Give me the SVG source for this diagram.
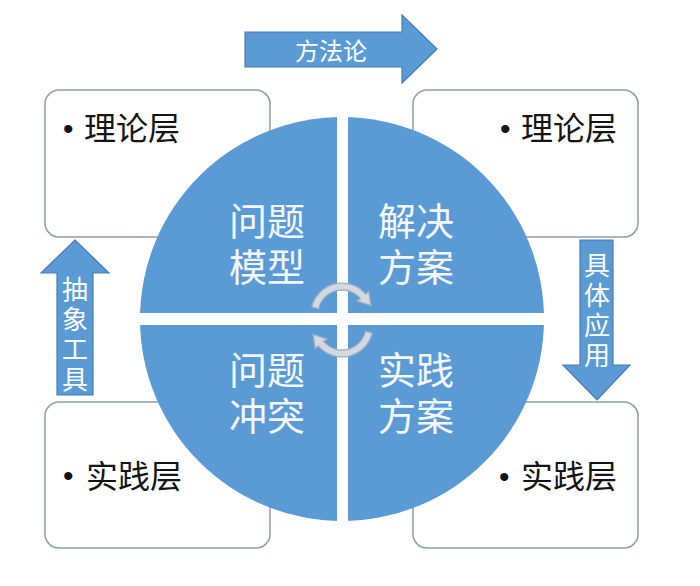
<svg xmlns="http://www.w3.org/2000/svg" width="700" height="586" viewBox="0 0 700 586">
<style>
.box{fill:#ffffff;stroke:#8e9cae;stroke-width:1.5}
.btxt{font-family:"Noto Sans CJK SC","Noto Sans",sans-serif;font-size:32px;fill:#141414}
.bul{font-family:"Liberation Sans",sans-serif;font-size:30px;fill:#141414}
.quad{fill:#5b9bd5}
.qtxt{font-family:"Noto Sans CJK SC",sans-serif;font-size:38px;fill:#f4f7fb;text-anchor:middle}
.barrow{fill:#5b9bd5;stroke:#4a7db0;stroke-width:1.2}
.atxt{font-family:"Noto Sans CJK SC",sans-serif;fill:#ffffff;text-anchor:middle}
.vtxt{font-family:"Noto Sans CJK SC",sans-serif;fill:#ffffff;font-size:26px;writing-mode:vertical-rl;letter-spacing:4px}
.cyc{fill:#d3d9e0;stroke:#a3afbd;stroke-width:1.3}
</style>
<rect width="700" height="586" fill="#ffffff"/>
<g id="box-theory-left">
<rect class="box" x="45" y="90" width="225" height="147" rx="14"/>
<text class="btxt"><tspan class="bul" x="63" y="139">•</tspan><tspan x="84" y="140">理论层</tspan></text>
</g>
<g id="box-theory-right">
<rect class="box" x="413" y="90" width="225" height="147" rx="14"/>
<text class="btxt"><tspan class="bul" x="500" y="139">•</tspan><tspan x="521" y="140">理论层</tspan></text>
</g>
<g id="box-practice-left">
<rect class="box" x="45" y="402" width="225" height="146" rx="14"/>
<text class="btxt"><tspan class="bul" x="63" y="486">•</tspan><tspan x="86" y="488">实践层</tspan></text>
</g>
<g id="box-practice-right">
<rect class="box" x="413" y="402" width="225" height="146" rx="14"/>
<text class="btxt"><tspan class="bul" x="499" y="487">•</tspan><tspan x="521" y="488">实践层</tspan></text>
</g>
<g id="circle">
<circle class="quad" cx="342" cy="319" r="202"/>
<rect x="337" y="110" width="11" height="420" fill="#ffffff"/>
<rect x="130" y="313" width="425" height="12" fill="#ffffff"/>
</g>
<g id="q-problem-model"><text class="qtxt"><tspan x="267" y="235">问题</tspan><tspan x="267" y="281">模型</tspan></text></g>
<g id="q-solution"><text class="qtxt"><tspan x="416" y="235">解决</tspan><tspan x="416" y="281">方案</tspan></text></g>
<g id="q-problem-conflict"><text class="qtxt"><tspan x="267" y="384">问题</tspan><tspan x="267" y="430">冲突</tspan></text></g>
<g id="q-practice-plan"><text class="qtxt"><tspan x="416" y="384">实践</tspan><tspan x="416" y="430">方案</tspan></text></g>
<g id="connectors">
<g id="arrow-methodology">
<path class="barrow" d="M245 32 H402 V15 L437 49 L402 83 V67 H245 Z"/>
<text class="atxt" x="331" y="60" font-size="24">方法论</text>
</g>
<g id="arrow-abstraction">
<path class="barrow" d="M75 240 L109 273 H93 V395 H57 V273 H41 Z"/>
<text class="vtxt" x="75" y="276">抽象工具</text>
</g>
<g id="arrow-application">
<path class="barrow" d="M580 240 H613 V365 H630 L597 400 L563 365 H580 Z"/>
<text class="vtxt" x="597" y="252">具体应用</text>
</g>
<g id="cycle-arrows">
<path id="cyc-top" class="cyc" d="M311.8 307 A31 31 0 0 1 365.7 294.1 L368.8 291.5 L370.8 305.5 L357.3 301.1 L360.4 298.6 A24 24 0 0 0 318.6 308.6 Z"/>
<path class="cyc" transform="rotate(180 342 320)" d="M311.8 307 A31 31 0 0 1 365.7 294.1 L368.8 291.5 L370.8 305.5 L357.3 301.1 L360.4 298.6 A24 24 0 0 0 318.6 308.6 Z"/>
</g>
</g>
</svg>
